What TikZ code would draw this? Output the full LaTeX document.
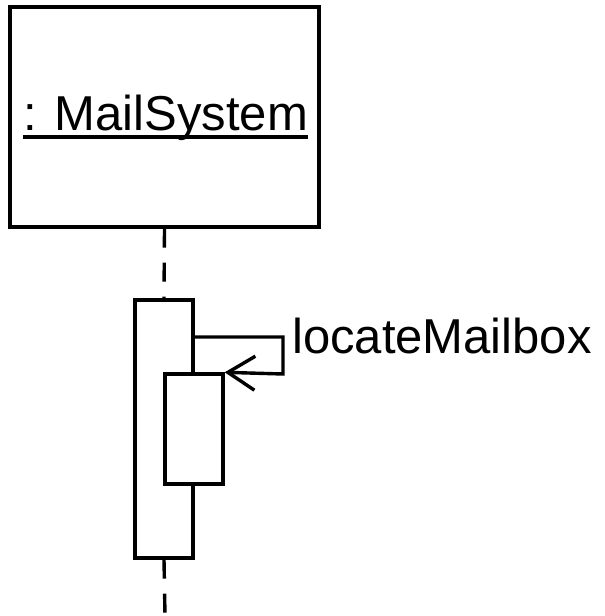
\documentclass[tikz,border=0pt]{standalone}
\usepackage{fontspec}
\setmainfont{Liberation Sans}
\usetikzlibrary{arrows.meta}
\begin{document}
\begin{tikzpicture}[x=1pt,y=-1pt,
  ln/.style={line width=3.4pt,black},
  box/.style={ln,draw,fill=white,rectangle,inner sep=0pt},
  life/.style={ln,dash pattern=on 19pt off 15pt},
  lbl/.style={font=\fontsize{49}{52}\selectfont,inner sep=0pt}]
\useasboundingbox (0,0) rectangle (605,616);
\node[box,minimum width=309pt,minimum height=220pt] (obj) at (164.5,117) {};
\node[lbl,anchor=base] (name) at (165.5,130) {: MailSystem};
\draw[ln] ([yshift=-7pt]name.base west) coordinate (u1) -- ([yshift=-7pt]name.base east) coordinate (u2);
\node[box,minimum width=58pt,minimum height=258pt] (act1) at (164,429) {};
\node[box,minimum width=58pt,minimum height=110pt] (act2) at (194,429) {};
\coordinate (lifeend) at (165,616);
\draw[life] (obj.south) -- (act1.north);
\draw[life] (act1.south) -- (lifeend);
\coordinate (c1) at (283,337);
\coordinate (c2) at (283,374);
\draw[ln,-{Straight Barb[length=27pt,width=34pt,line width=3.4pt]}] (act1.east |- c1) -- (c1) -- (c2) -- (act2.north east);
\node[lbl,anchor=base west] (msg) at (292,353) {locateMailbox};
\end{tikzpicture}
\end{document}
